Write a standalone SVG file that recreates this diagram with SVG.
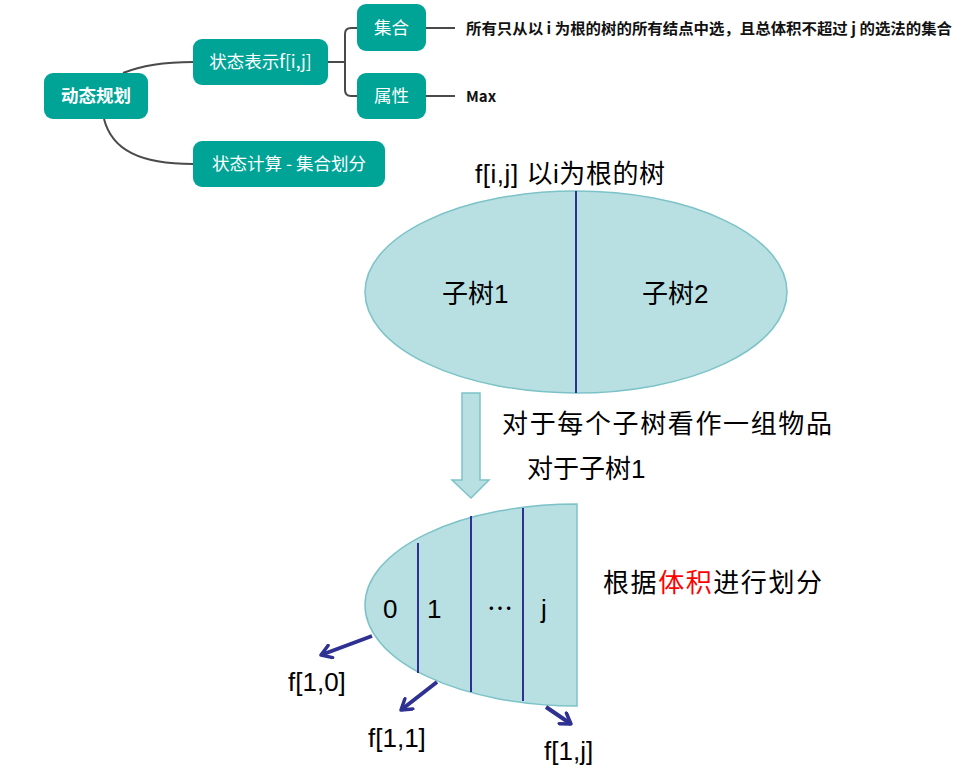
<svg xmlns="http://www.w3.org/2000/svg" width="975" height="774" viewBox="0 0 975 774">
<defs>
<style>
.node{fill:#00A497;}
.nt{fill:#fff;font-family:"Noto Sans CJK SC","Liberation Sans",sans-serif;font-size:17.5px;text-anchor:middle;}
.conn{fill:none;stroke:#4a4a4a;stroke-width:2;}
.lbl{fill:#111;font-family:"Noto Sans CJK SC","Liberation Sans",sans-serif;font-size:15px;font-weight:bold;}
.big{fill:#000;font-family:"Liberation Sans","Noto Sans CJK SC",sans-serif;font-size:26px;}
.shape{fill:#B8DFE2;stroke:#7CC3C8;stroke-width:1.5;}
.div{stroke:#2E3192;stroke-width:2;}
.arr{stroke:#2E3192;stroke-width:4;fill:none;marker-end:url(#ah);}
</style>
<marker id="ah" markerWidth="16" markerHeight="16" refX="13" refY="8" orient="auto" markerUnits="userSpaceOnUse" viewBox="0 0 16 16">
<path d="M3,1.5 L13,8 L3,14.5" fill="none" stroke="#2E3192" stroke-width="3.5" stroke-linecap="round" stroke-linejoin="round"/>
</marker>
</defs>
<rect width="975" height="774" fill="#fff"/>

<g id="connectors">
<path class="conn" d="M123,73 Q150,62 193,62"/>
<path class="conn" d="M104,119 C112,150 140,164 193,164"/>
<path class="conn" d="M328,62 L345,62"/>
<path class="conn" d="M357,28 L351,28 Q345,28 345,34 L345,90 Q345,96 351,96 L357,96"/>
<path class="conn" d="M426,28 L455,28"/>
<path class="conn" d="M426,96 L455,96"/>
</g>

<g id="n-dp">
<rect class="node" x="44" y="73" width="104" height="46" rx="9"/>
<text class="nt" x="96" y="102" font-weight="bold">动态规划</text>
</g>
<g id="n-repr">
<rect class="node" x="193" y="39" width="135" height="46" rx="9"/>
<text class="nt" x="260.5" y="68">状态表示f[i,j]</text>
</g>
<g id="n-set">
<rect class="node" x="357" y="4" width="69" height="47" rx="9"/>
<text class="nt" x="391.5" y="34">集合</text>
</g>
<g id="n-attr">
<rect class="node" x="357" y="73" width="69" height="46" rx="9"/>
<text class="nt" x="391.5" y="102">属性</text>
</g>
<g id="n-calc">
<rect class="node" x="193" y="141" width="192" height="46" rx="9"/>
<text class="nt" x="289" y="170">状态计算 - 集合划分</text>
</g>
<g id="t-set">
<text class="lbl" x="466" y="34" textLength="486" lengthAdjust="spacingAndGlyphs">所有只从以 i 为根的树的所有结点中选，且总体积不超过 j 的选法的集合</text>
</g>
<g id="t-max">
<text class="lbl" x="466" y="102">Max</text>
</g>

<g id="tree">
<text class="big" x="475" y="183" textLength="190" lengthAdjust="spacing">f[i,j] 以i为根的树</text>
<ellipse class="shape" cx="576" cy="292" rx="211" ry="101"/>
<line class="div" x1="576" y1="191" x2="576" y2="393"/>
<text class="big" x="442" y="303">子树1</text>
<text class="big" x="642" y="303">子树2</text>
</g>

<g id="down-arrow">
<path class="shape" d="M462,393 L480,393 L480,480 L489,480 L471,498 L452,480 L462,480 Z"/>
</g>
<text class="big" x="502" y="433" font-size="27" textLength="330" lengthAdjust="spacing">对于每个子树看作一组物品</text>
<text class="big" x="527" y="478">对于子树1</text>

<g id="half">
<path class="shape" d="M577,504 A212,101 0 0 0 577,706 Z"/>
<line class="div" x1="418" y1="543" x2="418" y2="673"/>
<line class="div" x1="471" y1="516" x2="471" y2="692"/>
<line class="div" x1="523" y1="508" x2="523" y2="701"/>
<text class="big" x="383" y="618" font-size="24">0</text>
<text class="big" x="427" y="618" font-size="24">1</text>
<text class="big" x="487" y="618" font-size="24">⋯</text>
<text class="big" x="541" y="618" font-size="24">j</text>
</g>
<text class="big" x="603" y="592" font-size="27" textLength="219" lengthAdjust="spacing">根据<tspan fill="#FF0000">体积</tspan>进行划分</text>

<g id="out-arrows">
<path class="arr" d="M372,636 L321,655"/>
<path class="arr" d="M437,682 L401,710"/>
<path class="arr" d="M546,707 L571,724"/>
</g>
<text class="big" x="288" y="691">f[1,0]</text>
<text class="big" x="368" y="747">f[1,1]</text>
<text class="big" x="544" y="760">f[1,j]</text>
</svg>
